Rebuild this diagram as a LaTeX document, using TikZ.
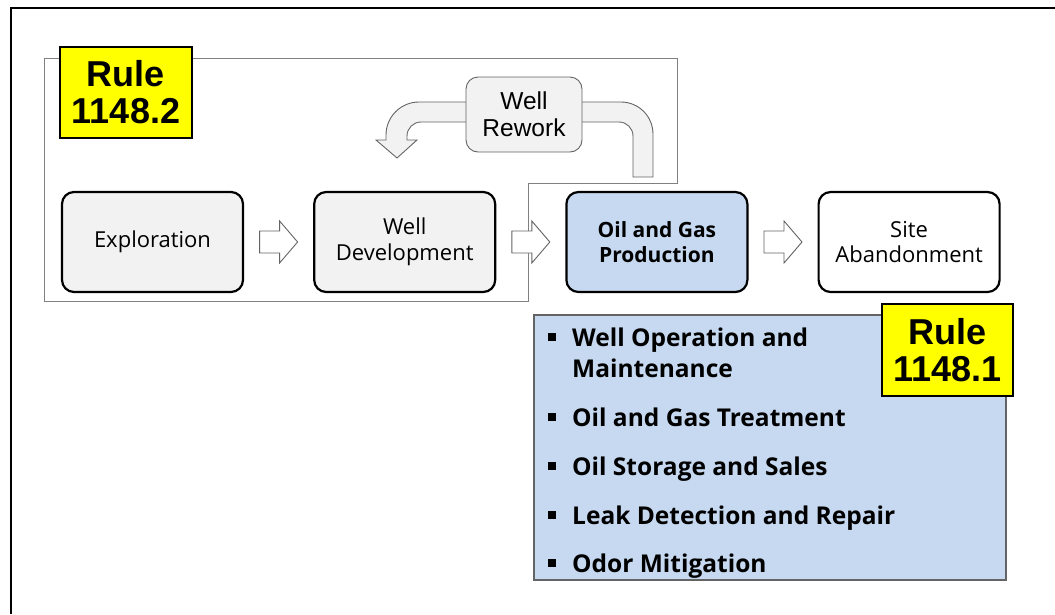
\documentclass[tikz,border=0pt]{standalone}
\usepackage{fontspec}
\setmainfont{Open Sans}
\newfontfamily\arialfont{Liberation Sans}
\usetikzlibrary{positioning,calc}
\definecolor{stagegray}{RGB}{242,242,242}
\definecolor{prodblue}{RGB}{198,217,240}
\definecolor{ruleyellow}{RGB}{255,255,0}
\definecolor{edgegray}{RGB}{100,100,100}

% hollow block arrow half way between two stages
\newcommand{\stagearrow}[2]{%
  \coordinate (mid) at ($(#1.east)!.5!(#2.west)$);
  \draw[hollow] ($(mid)+(-19,-11)$) -- ++(20,0) -- ++(0,-10) -- ++(18,21)
    -- ++(-18,21) -- ++(0,-10) -- ++(-20,0) -- cycle;}

\begin{document}
\begin{tikzpicture}[x=1pt, y=-1pt,
  stage/.style={draw, line width=2.2pt, rounded corners=12pt, fill=stagegray,
    minimum width=181pt, minimum height=100pt, align=center,
    font=\fontsize{22}{25.5}\selectfont},
  rulebox/.style={draw, line width=1.8pt, fill=ruleyellow, align=center,
    font=\arialfont\bfseries\fontsize{36}{37}\selectfont},
  hollow/.style={draw=edgegray, line width=.9pt, fill=white},
  loopband/.style={draw=edgegray, line width=.9pt, fill=stagegray},
  itemtext/.style={anchor=base west, align=left, inner sep=0pt,
    font=\bfseries\fontsize{24.5}{31}\selectfont}]
  \useasboundingbox (0,0) rectangle (1055,614);
  \draw[line width=2pt] (11,614) -- (11,8) -- (1055,8);

  % outline of the 1148.2 part
  \draw[gray, line width=.9pt] (44,58) -- (677,58) -- (677,183) -- (528,183)
    -- (528,301) -- (44,301) -- cycle;

  % rework loop
  \draw[loopband] (633,177) -- (653,177) -- (653,134)
    arc[start angle=0, end angle=90, radius=32pt] -- (580,102) -- (580,122)
    -- (619,122) arc[start angle=90, end angle=0, radius=14pt] -- cycle;
  \draw[loopband] (470,102) -- (419,102)
    arc[start angle=90, end angle=180, radius=33pt] -- (386,140) -- (376,140)
    -- (397,158) -- (417,140) -- (407,140) -- (407,136)
    arc[start angle=180, end angle=90, radius=14pt] -- (470,122) -- cycle;
  \node[draw=edgegray, line width=.9pt, rounded corners=12pt, fill=stagegray,
    minimum width=116pt, minimum height=75pt, align=center,
    font=\arialfont\fontsize{24.5}{27}\selectfont] (rework) at (524,114.5)
    {Well\\Rework};

  % stages
  \node[stage] (explore) at (152.5,242) {Exploration};
  \node[stage, right=69pt of explore] (develop) {Well\\Development};
  \node[stage, right=69pt of develop, fill=prodblue, font=\bfseries\fontsize{21}{25.5}\selectfont]
    (produce) {Oil and Gas\\Production};
  \node[stage, right=69pt of produce, fill=white] (abandon) {Site\\Abandonment};
  \stagearrow{explore}{develop}
  \stagearrow{develop}{produce}
  \stagearrow{produce}{abandon}

  % production tasks (bullet height / baseline of last line)
  \node[draw=edgegray, line width=1.4pt, fill=prodblue, minimum width=472pt,
    minimum height=265pt] (tasks) at (770,447.5) {};
  \foreach \b/\y/\txt [count=\i] in {337/377/{Well Operation and\\Maintenance},
      417/426/{Oil and Gas Treatment}, 466/475/{Oil Storage and Sales},
      515/524/{Leak Detection and Repair}, 563/572/{Odor Mitigation}} {
    \node[itemtext] (item\i) at (572,\y) {\txt};
    \fill (548,\b-4) rectangle ++(8,8);
  }

  % rule labels
  \node[rulebox, minimum width=132pt, minimum height=91pt] (rule2) at (126,92.5)
    {Rule\\1148.2};
  \node[rulebox, minimum width=131pt, minimum height=92pt] (rule1) at (947.5,350)
    {Rule\\1148.1};
\end{tikzpicture}
\end{document}
